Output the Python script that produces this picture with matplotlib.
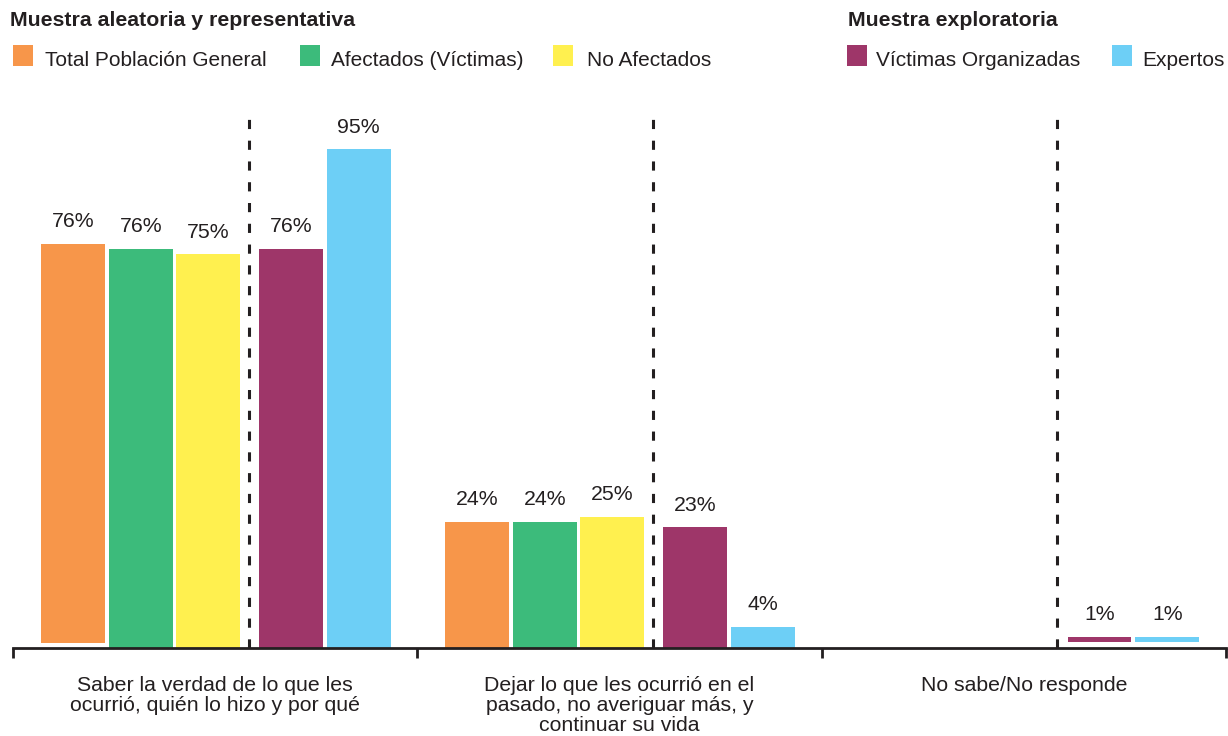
import matplotlib.pyplot as plt
from matplotlib.patches import Rectangle

# Datos del grafico
categorias = [
    "Saber la verdad de lo que les\nocurrió, quién lo hizo y por qué",
    "Dejar lo que les ocurrió en el\npasado, no averiguar más, y\ncontinuar su vida",
    "No sabe/No responde",
]
series = ["Total Población General", "Afectados (Víctimas)", "No Afectados",
          "Víctimas Organizadas", "Expertos"]
total_poblacion = [76, 24, 0]
afectados = [76, 24, 0]
no_afectados = [75, 25, 0]
victimas_organizadas = [76, 23, 1]
expertos = [95, 4, 1]
grupos_leyenda = ["Muestra aleatoria y representativa", "Muestra exploratoria"]

valores = [total_poblacion, afectados, no_afectados, victimas_organizadas, expertos]
colores = ["#F7964A", "#3CBB7B", "#FFF04F", "#9E3669", "#6DCFF6"]
posiciones = [0.148, 0.316, 0.482, 0.687, 0.855]   # centro de cada barra dentro del grupo
ancho = 0.158
texto = "#231F20"

# pequeños desplazamientos que tiene el original
base = [[1.0, 0, 0], [0, 0, 0], [0, 0, 0], [0, 0, 1.1], [0, 0, 1.1]]

plt.rcParams['font.family'] = ['Liberation Sans', 'DejaVu Sans']

fig = plt.figure(figsize=(12.28, 7.36), dpi=100)
ax = fig.add_axes([13 / 1228, 88 / 736, 1213 / 1228, 525 / 736])

for s in range(len(series)):
    for g in range(len(categorias)):
        v = valores[s][g]
        if v == 0:
            continue
        x = g + posiciones[s]
        ax.bar(x, v, width=ancho, bottom=base[s][g], color=colores[s], linewidth=0)
        ax.annotate(f"{v}%", (x, v + base[s][g]), xytext=(0, 16), textcoords="offset points",
                    ha="center", va="center", fontsize=15.3, color=texto)

# lineas punteadas separando muestras
for g in range(len(categorias)):
    ax.axvline(g + 0.583, ymin=0, ymax=1.01, color="#231F20", lw=2.2,
               dashes=(3.0, 3.8), clip_on=False)

ax.set_xlim(0, 3)
ax.set_ylim(0, 100)
ax.set_yticks([])
for lado in ["left", "right", "top"]:
    ax.spines[lado].set_visible(False)
ax.spines["bottom"].set_color("#231F20")
ax.spines["bottom"].set_linewidth(2)
ax.set_xticks([0, 1, 2, 3])
ax.set_xticklabels([])
ax.tick_params(axis="x", direction="out", length=7, width=2, color="#231F20")

for g, cat in enumerate(categorias):
    ax.annotate(cat, (g + 0.5, 0), xycoords=("data", "axes fraction"),
                xytext=(0, -20), textcoords="offset points", ha="center", va="top",
                fontsize=15.3, color=texto, linespacing=1.06)

# leyenda manual
fig.text(10 / 1228, 1 - 21 / 736, grupos_leyenda[0], fontsize=15.3, fontweight="bold",
         color=texto, va="center", ha="left")
fig.text(848 / 1228, 1 - 21 / 736, grupos_leyenda[1], fontsize=15.3, fontweight="bold",
         color=texto, va="center", ha="left")
cuadros = [13, 300, 553, 847, 1112]
textos_x = [45, 331, 587, 876, 1142]
for s in range(len(series)):
    fig.patches.append(Rectangle((cuadros[s] / 1228, 1 - 66 / 736), 20 / 1228, 21 / 736,
                                 transform=fig.transFigure, color=colores[s], lw=0))
    fig.text(textos_x[s] / 1228, 1 - 60 / 736, series[s], fontsize=15, color=texto,
             va="center", ha="left")

fig.savefig("out.png", dpi=100)
